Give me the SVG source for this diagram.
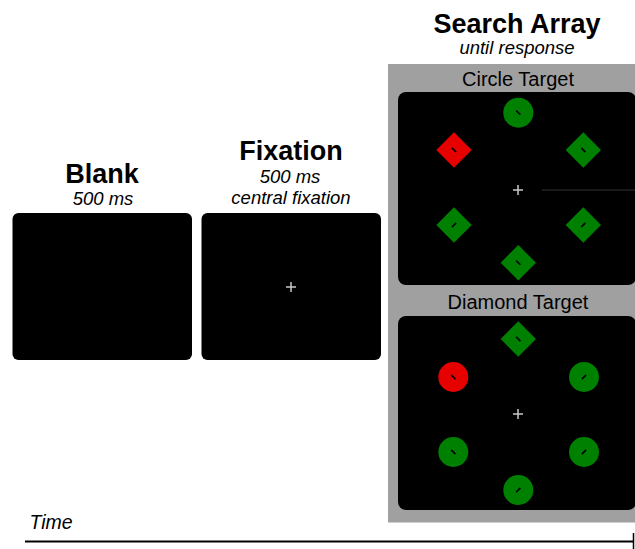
<svg xmlns="http://www.w3.org/2000/svg" width="635" height="549" viewBox="0 0 635 549">
<defs>
<style>
.title{font-family:"Liberation Sans",Arial,sans-serif;font-weight:bold;font-size:27px;fill:#000;text-anchor:middle}
.sub{font-family:"Liberation Sans",Arial,sans-serif;font-style:italic;font-size:18.5px;fill:#000;text-anchor:middle}
.lab{font-family:"Liberation Sans",Arial,sans-serif;font-size:20px;fill:#000;text-anchor:middle}
.screen{fill:#000}
.cross{stroke:#c8c8c8;stroke-width:1.5;fill:none}
.g{fill:#008000}
.r{fill:#e60000}
.tick{stroke:#000;stroke-width:1.6}
</style>
<rect id="dia" x="-12.5" y="-12.5" width="25" height="25" transform="rotate(45)"/>
<path id="crossp" d="M-5,0H5M0,-5V5"/>
</defs>

<g id="blank">
<text class="title" x="102" y="183">Blank</text>
<text class="sub" x="103" y="205">500 ms</text>
<rect class="screen" x="12.5" y="213" width="179.5" height="147" rx="6"/>
</g>

<g id="fixation">
<text class="title" x="291" y="160">Fixation</text>
<text class="sub" x="290" y="183">500 ms</text>
<text class="sub" x="291" y="204">central fixation</text>
<rect class="screen" x="201.5" y="213" width="179.5" height="147" rx="6"/>
<use href="#crossp" class="cross" transform="translate(291,287)"/>
</g>

<g id="search-array">
<text class="title" x="517" y="33">Search Array</text>
<text class="sub" x="517" y="54">until response</text>
<rect x="388" y="64" width="252" height="458.5" fill="#a0a0a0"/>
</g>

<g id="circle-target">
<text class="lab" x="518" y="86">Circle Target</text>
<rect class="screen" x="398" y="92" width="238" height="193" rx="8"/>
<line x1="542" y1="190" x2="635" y2="190" stroke="#333" stroke-width="1"/>
<use href="#crossp" class="cross" transform="translate(518,190)"/>
<circle class="g" cx="518.3" cy="112.7" r="15"/>
<line class="tick" x1="516.2" y1="110.6" x2="520.4" y2="114.8"/>
<use href="#dia" class="r" transform="translate(454,150)"/>
<line class="tick" x1="451.9" y1="147.9" x2="456.1" y2="152.1"/>
<use href="#dia" class="g" transform="translate(583.3,150)"/>
<line class="tick" x1="581.2" y1="147.9" x2="585.4" y2="152.1"/>
<use href="#dia" class="g" transform="translate(454,225)"/>
<line class="tick" x1="451.9" y1="227.1" x2="456.1" y2="222.9"/>
<use href="#dia" class="g" transform="translate(583.3,225)"/>
<line class="tick" x1="581.2" y1="227.1" x2="585.4" y2="222.9"/>
<use href="#dia" class="g" transform="translate(518.3,262.7)"/>
<line class="tick" x1="516.2" y1="260.6" x2="520.4" y2="264.8"/>
</g>

<g id="diamond-target">
<text class="lab" x="518" y="309">Diamond Target</text>
<rect class="screen" x="398" y="316" width="238" height="194" rx="8"/>
<use href="#crossp" class="cross" transform="translate(518,414)"/>
<use href="#dia" class="g" transform="translate(518.3,339)"/>
<line class="tick" x1="516.2" y1="336.9" x2="520.4" y2="341.1"/>
<circle class="r" cx="453.3" cy="377" r="15"/>
<line class="tick" x1="451.2" y1="374.9" x2="455.4" y2="379.1"/>
<circle class="g" cx="584" cy="377" r="15"/>
<line class="tick" x1="581.9" y1="379.1" x2="586.1" y2="374.9"/>
<circle class="g" cx="453.3" cy="452" r="15"/>
<line class="tick" x1="451.2" y1="449.9" x2="455.4" y2="454.1"/>
<circle class="g" cx="584" cy="452" r="15"/>
<line class="tick" x1="581.9" y1="454.1" x2="586.1" y2="449.9"/>
<circle class="g" cx="518.3" cy="490" r="15"/>
<line class="tick" x1="516.2" y1="492.1" x2="520.4" y2="487.9"/>
</g>

<g id="connectors">
<text class="sub" x="51" y="529" style="font-size:19.5px">Time</text>
<line x1="25" y1="541.5" x2="634" y2="541.5" stroke="#000" stroke-width="2"/>
<line x1="633.5" y1="533" x2="633.5" y2="549" stroke="#000" stroke-width="1.5"/>
</g>
</svg>
